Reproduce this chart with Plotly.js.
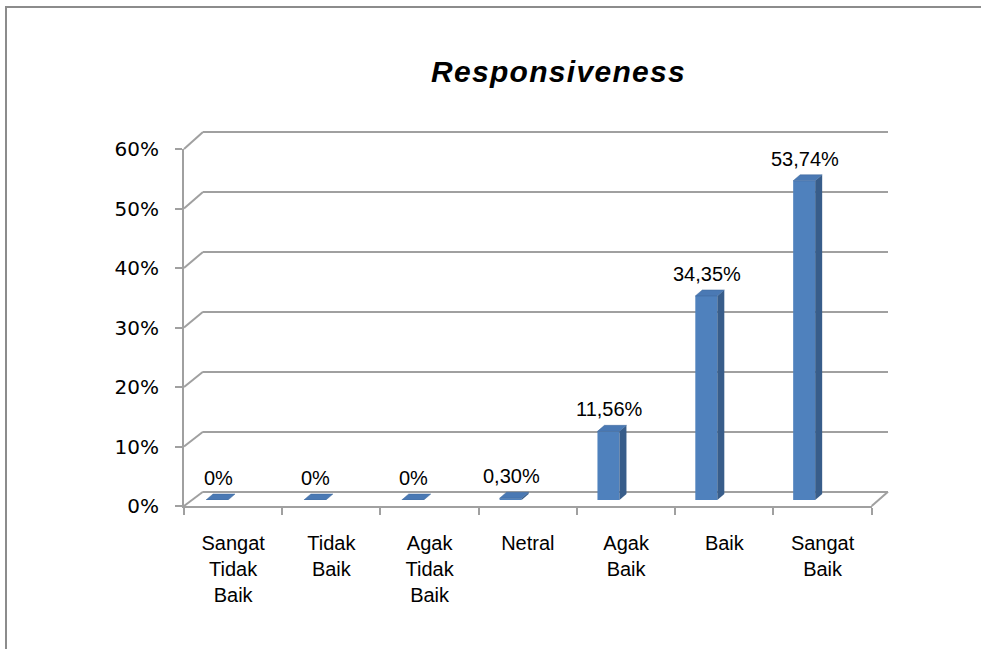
<!DOCTYPE html>
<html>
<head>
<meta charset="utf-8">
<script src="https://cdn.plot.ly/plotly-3.0.1.min.js"></script>
<style>
  html, body { margin: 0; padding: 0; background: #ffffff; overflow: hidden; }
  #chart { width: 981px; height: 649px; }
  .modebar-container, .modebar { display: none !important; }
  .xtick text { letter-spacing: 1px; }
  .gtitle { letter-spacing: 1.3px; }
</style>
</head>
<body>
<div id="chart"></div>
<script>
// ---- data ----
const categories = ['Sangat<br>Tidak<br>Baik', 'Tidak<br>Baik', 'Agak<br>Tidak<br>Baik', 'Netral', 'Agak<br>Baik', 'Baik', 'Sangat<br>Baik'];
const values = [0, 0, 0, 0.30, 11.56, 34.35, 53.74];
const yTickVals = [0, 10, 20, 30, 40, 50, 60];
const yTickText = ['0%', '10%', '20%', '30%', '40%', '50%', '60%'];
const chartTitle = 'Responsiveness';

// ---- styling / geometry ----
const gridColor = '#a0a0a0';
const frameColor = '#8c8c8c';
const frontColor = '#4f81bd';
const sideColor = '#385d8a';
const topColor = '#4a79b4';
const L = 166, R = 888, T = 126, B = 506;
const W = R - L, H = B - T;
const px2x = p => (p - L) / W;
const px2y = p => (B - p) / H;
const yMax = 60;
const backYMax = 61;

const backXDom = [px2x(203), 1];
const backYDom = [px2y(491.7), 1];
const frontXDom = [px2x(184), px2x(871.7)];
const frontYDom = [0, px2y(149)];
const barXDom = [px2x(168.1), px2x(853.1)];
const barYDom = [px2y(500), px2y(143.6)];

const idx = values.map((v, i) => i);
const labels = values.map(v => (v === 0 ? '0' : v.toFixed(2).replace('.', ',')) + '%');

// bar geometry in pixels
const barPxPerCat = (853.1 - 168.1) / 7;
const barW = 22;
const hw = barW / 2;
const dx = 7, dyPx = 6;
const barPxPerUnit = (500 - 143.6) / yMax;
const dyU = dyPx / barPxPerUnit;

const traces = [
  { type: 'scatter', x: [0, 1], y: [0, 0], xaxis: 'x', yaxis: 'y', mode: 'none', hoverinfo: 'skip', showlegend: false },
  { type: 'scatter', x: categories, y: values, xaxis: 'x2', yaxis: 'y2', mode: 'none', hoverinfo: 'skip', showlegend: false },
  { type: 'bar', x: idx, y: values, xaxis: 'x3', yaxis: 'y3', width: barW / barPxPerCat,
    marker: { color: frontColor, line: { width: 0 } }, hoverinfo: 'skip', showlegend: false }
];

const backYAt = v => backYDom[0] + v / backYMax * (backYDom[1] - backYDom[0]);
const frontYAt = v => frontYDom[0] + v / yMax * (frontYDom[1] - frontYDom[0]);

const shapes = [];
// outer frame (top and left edges)
shapes.push({ type: 'line', xref: 'paper', yref: 'paper', layer: 'above',
  x0: px2x(6), y0: px2y(7), x1: px2x(990), y1: px2y(7), line: { color: frameColor, width: 2 } });
shapes.push({ type: 'line', xref: 'paper', yref: 'paper', layer: 'above',
  x0: px2x(6), y0: px2y(6), x1: px2x(6), y1: px2y(660), line: { color: frameColor, width: 2 } });
// side-wall diagonals linking front y ticks to back gridlines
yTickVals.forEach(v => {
  shapes.push({ type: 'line', xref: 'paper', yref: 'paper', layer: 'below',
    x0: frontXDom[0], y0: frontYAt(v), x1: backXDom[0], y1: backYAt(v),
    line: { color: gridColor, width: 2 } });
});
// floor right edge
shapes.push({ type: 'line', xref: 'paper', yref: 'paper', layer: 'below',
  x0: frontXDom[1], y0: frontYDom[0], x1: backXDom[1], y1: backYDom[0],
  line: { color: gridColor, width: 2 } });
// 3D faces of bars
values.forEach((v, i) => {
  shapes.push({ type: 'path', xref: 'x3', yref: 'y3', xsizemode: 'pixel', xanchor: i, layer: 'above',
    path: `M ${hw},${v} L ${hw + dx},${v + dyU} L ${hw + dx},${dyU} L ${hw},0 Z`,
    fillcolor: sideColor, line: { width: 0 } });
  shapes.push({ type: 'path', xref: 'x3', yref: 'y3', xsizemode: 'pixel', xanchor: i, layer: 'above',
    path: `M ${-hw},${v} L ${-hw + dx},${v + dyU} L ${hw + dx},${v + dyU} L ${hw},${v} Z`,
    fillcolor: topColor, line: { color: '#3d6699', width: 0.5 } });
});

const annotations = values.map((v, i) => ({
  xref: 'x3', yref: 'y3', x: i, y: v, text: labels[i], showarrow: false,
  xanchor: 'center', yanchor: 'bottom', xshift: 1, yshift: 9,
  font: { family: 'Liberation Sans, Arial, sans-serif', size: 20, color: '#000' }
}));

const layout = {
  width: 981, height: 649,
  margin: { l: L, r: 981 - R, t: T, b: 649 - B, pad: 0 },
  paper_bgcolor: '#ffffff', plot_bgcolor: 'rgba(0,0,0,0)',
  showlegend: false,
  title: { text: chartTitle, xref: 'container', yref: 'container', x: 0.5693, xanchor: 'center', y: 1 - 71 / 649, yanchor: 'middle',
    font: { family: 'Liberation Sans, Arial, sans-serif', size: 30, weight: 'bold', style: 'italic', color: '#000' } },
  xaxis: { domain: backXDom, anchor: 'y', range: [0, 1], visible: false, fixedrange: true },
  yaxis: { domain: backYDom, anchor: 'x', range: [0, backYMax], tickvals: yTickVals, showticklabels: false, ticks: '',
    showgrid: true, gridcolor: gridColor, gridwidth: 2, zeroline: true, zerolinecolor: gridColor, zerolinewidth: 2, showline: false, fixedrange: true },
  xaxis2: { domain: frontXDom, anchor: 'y2', type: 'category', categoryorder: 'array', categoryarray: categories, range: [-0.5, 6.5],
    tickson: 'boundaries', ticks: 'outside', ticklen: 7, tickwidth: 2, tickcolor: gridColor,
    showline: true, linecolor: gridColor, linewidth: 2, showgrid: false, zeroline: false,
    ticklabelstandoff: 18,
    tickfont: { family: 'Liberation Sans, Arial, sans-serif', size: 20, color: '#000' }, fixedrange: true },
  yaxis2: { domain: frontYDom, anchor: 'x2', range: [0, yMax], tickvals: yTickVals, ticktext: yTickText,
    ticks: 'outside', ticklen: 7, tickwidth: 2, tickcolor: gridColor, showline: true, linecolor: gridColor, linewidth: 2,
    showgrid: false, zeroline: false, ticklabelstandoff: 12,
    tickfont: { family: 'DejaVu Sans, sans-serif', size: 20, color: '#000' }, fixedrange: true },
  xaxis3: { domain: barXDom, anchor: 'y3', range: [-0.5, 6.5], visible: false, fixedrange: true },
  yaxis3: { domain: barYDom, anchor: 'x3', range: [0, yMax], visible: false, fixedrange: true },
  shapes: shapes,
  annotations: annotations
};

Plotly.newPlot('chart', traces, layout, { staticPlot: true, displayModeBar: false });
</script>
</body>
</html>
